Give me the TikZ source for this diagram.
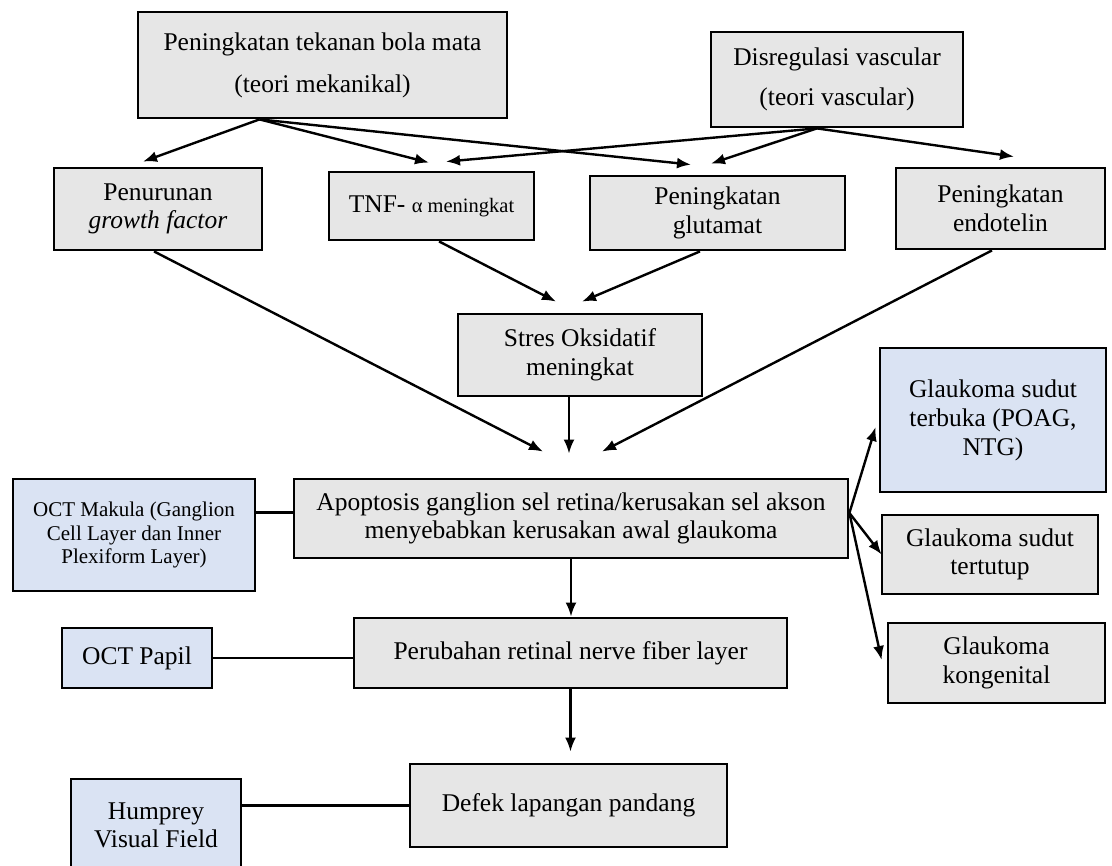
\documentclass[tikz,border=0pt]{standalone}
\usepackage{fontspec}
\setmainfont{Liberation Serif}
\usetikzlibrary{arrows.meta,calc}
\definecolor{boxgray}{HTML}{E6E6E6}
\definecolor{boxblue}{HTML}{DAE3F3}
\begin{document}
\begin{tikzpicture}[x=1pt,y=-1pt,
  box/.style={draw=black, line width=2.8pt, fill=boxgray, align=center, inner sep=0pt, font=\fontsize{25.5}{28.5}\selectfont},
  bluebox/.style={box, fill=boxblue},
  arr/.style={-{Latex[length=14pt,width=11pt]}, line width=2.4pt},
  link/.style={line width=2.4pt}]
\clip (0,0) rectangle (1112,866);
\fill[white] (0,0) rectangle (1112,866);

% top row
\node[box, minimum width=369pt, minimum height=106pt, font=\fontsize{25.5}{42}\selectfont] (b1) at (322.5,65) {Peningkatan tekanan bola mata\\(teori mekanikal)};
\node[box, minimum width=252pt, minimum height=95pt, font=\fontsize{25.5}{40}\selectfont] (b2) at (837,79.5) {Disregulasi vascular\\(teori vascular)};

% second row
\node[box, minimum width=208pt, minimum height=82pt] (pen) at (158,209) {Penurunan\\\textit{growth factor}};
\node[box, minimum width=205pt, minimum height=68pt] (tnf) at (431.5,206) {TNF- {\fontsize{20.5}{24}\selectfont α meningkat}};
\node[box, minimum width=255pt, minimum height=74pt] (glu) at (717.5,213) {Peningkatan\\glutamat};
\node[box, minimum width=209pt, minimum height=81pt] (endo) at (1000.5,208.5) {Peningkatan\\endotelin};

% middle
\node[box, minimum width=244pt, minimum height=82pt] (stres) at (580,355) {Stres Oksidatif\\meningkat};
\node[box, minimum width=554pt, minimum height=79pt] (apo) at (571,518.5) {Apoptosis ganglion sel retina/kerusakan sel akson\\menyebabkan kerusakan awal glaukoma};
\node[bluebox, minimum width=242pt, minimum height=112pt, font=\fontsize{21}{23.5}\selectfont] (mak) at (134,535) {OCT Makula (Ganglion\\Cell Layer dan Inner\\Plexiform Layer)};

% right column
\node[bluebox, minimum width=226pt, minimum height=144pt, font=\fontsize{25.5}{29}\selectfont] (terb) at (993,420) {Glaukoma sudut\\terbuka (POAG,\\NTG)};
\node[box, minimum width=216pt, minimum height=79pt] (tert) at (990,554.5) {Glaukoma sudut\\tertutup};
\node[box, minimum width=217pt, minimum height=80pt] (kong) at (996.5,663) {Glaukoma\\kongenital};

% lower
\node[box, minimum width=433pt, minimum height=70pt] (per) at (570.5,653) {Perubahan retinal nerve fiber layer};
\node[bluebox, minimum width=150pt, minimum height=60pt] (papil) at (137,658) {OCT Papil};
\node[box, minimum width=317pt, minimum height=83pt] (defek) at (568.5,805.5) {Defek lapangan pandang};
\node[bluebox, minimum width=170pt, minimum height=93pt] (hum) at (156,825.5) {Humprey\\Visual Field};

% arrows from top boxes
\draw[arr] ([xshift=-63pt]b1.south) -- ([xshift=-15pt,yshift=5pt]pen.north);
\draw[arr] ([xshift=-63pt]b1.south) -- ([xshift=-2.5pt,yshift=8pt]tnf.north);
\draw[arr] ([xshift=-63pt]b1.south) -- ([xshift=-26.5pt,yshift=10pt]glu.north);
\draw[arr] ([xshift=-20pt]b2.south) -- ([xshift=14.5pt,yshift=9pt]tnf.north);
\draw[arr] ([xshift=-20pt]b2.south) -- ([xshift=-6.5pt,yshift=11pt]glu.north);
\draw[arr] ([xshift=-20pt]b2.south) -- ([xshift=13.5pt,yshift=10pt]endo.north);

% into stres and apoptosis
\draw[arr] ([xshift=-4pt]pen.south) -- ([xshift=-28pt,yshift=26pt]apo.north);
\draw[arr] ([xshift=7.5pt]tnf.south) -- ([xshift=-24pt,yshift=11pt]stres.north);
\draw[arr] ([xshift=-17.5pt]glu.south) -- ([xshift=2pt,yshift=11pt]stres.north);
\draw[arr] ([xshift=-11pt]stres.south) -- ([xshift=-2pt,yshift=24pt]apo.north);
\draw[arr] ([xshift=-8.5pt]endo.south) -- ([xshift=31pt,yshift=26pt]apo.north);

% apoptosis to glaucoma types
\draw[arr] ([yshift=5.5pt]apo.east) -- ([xshift=-3pt,yshift=-7pt]terb.west);
\draw[arr] ([yshift=5.5pt]apo.east) -- ([xshift=1pt]tert.west);
\draw[arr] ([yshift=5.5pt]apo.east) -- ([xshift=-5pt,yshift=3pt]kong.west);

% vertical chain
\draw[arr] (apo.south) -- (apo.south |- per.north);
\draw[arr] (per.south) -- ([yshift=11pt]per.south |- defek.north);

% links to tests
\draw[link] ([yshift=6pt]apo.west) -- ([yshift=6pt]apo.west -| mak.east);
\draw[link] (papil.east) -- (papil.east -| per.west);
\draw[link] (defek.west) -- (defek.west -| hum.east);
\end{tikzpicture}
\end{document}
